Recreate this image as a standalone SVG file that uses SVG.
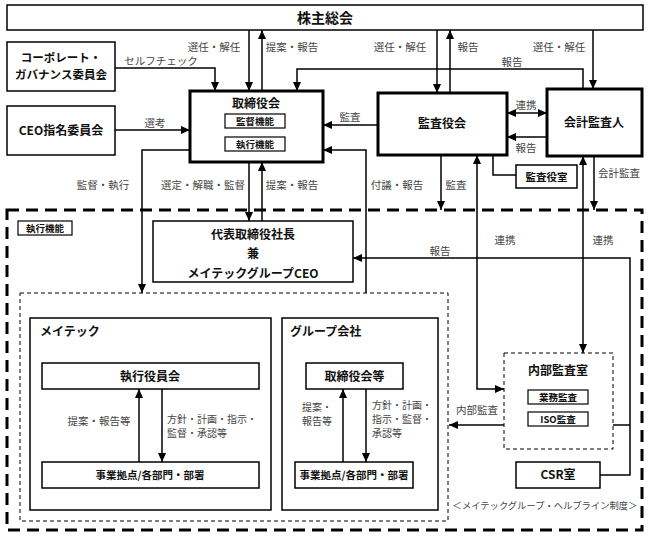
<svg xmlns="http://www.w3.org/2000/svg" width="648" height="541" viewBox="0 0 648 541">
<style>
.box{fill:#fff;stroke:#000;stroke-width:1.5}
.thick{stroke-width:3}
.small{stroke-width:1.2}
.t{font-family:"Noto Sans CJK JP","Noto Sans",sans-serif;font-size:12px;font-weight:bold;text-anchor:middle;fill:#111}
.ts{font-family:"Noto Sans CJK JP","Noto Sans",sans-serif;font-size:10.5px;font-weight:bold;text-anchor:middle;fill:#111}
.tx{font-family:"Noto Sans CJK JP","Noto Sans",sans-serif;font-size:9.5px;font-weight:bold;text-anchor:middle;fill:#111}
.lbl{font-family:"Noto Sans CJK JP","Noto Sans",sans-serif;font-size:10.5px;fill:#444;text-anchor:middle}
.l2{font-family:"Noto Sans CJK JP","Noto Sans",sans-serif;font-size:10px;fill:#444;text-anchor:start}
.c{stroke:#000;stroke-width:1.5;fill:none}
</style>
<defs>
<marker id="a" markerUnits="userSpaceOnUse" markerWidth="10" markerHeight="10" viewBox="0 0 10 10" refX="9" refY="5" orient="auto-start-reverse">
<path d="M0,1 L9,5 L0,9 Z" fill="#000"/>
</marker>
</defs>
<rect width="648" height="541" fill="#fff"/>

<!-- frames -->
<g id="exec-frame">
<rect x="7" y="210" width="635" height="320" fill="none" stroke="#000" stroke-width="3" stroke-dasharray="12 7"/>
<rect x="18" y="221" width="54" height="14" class="box small"/>
<text x="45" y="231.5" class="tx">執行機能</text>
</g>
<g id="inner-frame">
<rect x="20" y="293" width="428" height="228" fill="none" stroke="#000" stroke-width="1" stroke-dasharray="4 3"/>
</g>

<g id="shareholders">
<rect x="7" y="5" width="636" height="25" class="box"/>
<text x="325" y="22.5" class="t" style="font-size:14px">株主総会</text>
</g>
<g id="corp-gov">
<rect x="7" y="42" width="108" height="49" class="box"/>
<text x="61" y="62" class="t" style="font-size:11.5px">コーポレート・</text>
<text x="61" y="79" class="t" style="font-size:11.5px">ガバナンス委員会</text>
</g>
<g id="ceo-nom">
<rect x="7" y="106" width="108" height="49" class="box"/>
<text x="61" y="135" class="t">CEO指名委員会</text>
</g>
<g id="board">
<rect x="190" y="91" width="133" height="71" class="box thick"/>
<text x="256" y="108" class="t">取締役会</text>
<rect x="225" y="114" width="60" height="14" class="box small"/>
<text x="255" y="124.5" class="tx">監督機能</text>
<rect x="225" y="137" width="60" height="14" class="box small"/>
<text x="255" y="147.5" class="tx">執行機能</text>
</g>
<g id="audit-board">
<rect x="378" y="93" width="129" height="62" class="box thick"/>
<text x="442" y="128" class="t">監査役会</text>
</g>
<g id="auditor">
<rect x="547" y="89" width="95" height="67" class="box thick"/>
<text x="594" y="127" class="t">会計監査人</text>
</g>
<g id="audit-office">
<rect x="516" y="165" width="61" height="23" class="box"/>
<text x="546.5" y="180.5" class="ts">監査役室</text>
</g>
<g id="president">
<rect x="153" y="221" width="200" height="61" class="box"/>
<text x="253" y="239" class="t">代表取締役社長</text>
<text x="253" y="258" class="t">兼</text>
<text x="253" y="278" class="t">メイテックグループCEO</text>
</g>
<g id="meitec">
<rect x="30" y="318" width="241" height="192" class="box"/>
<text x="40" y="336" class="t" style="text-anchor:start">メイテック</text>
</g>
<g id="exec-officers">
<rect x="42" y="363" width="217" height="26" class="box"/>
<text x="150" y="380.5" class="t">執行役員会</text>
</g>
<g id="meitec-units">
<rect x="42" y="462" width="217" height="26" class="box"/>
<text x="150" y="479" class="ts">事業拠点/各部門・部署</text>
</g>
<g id="group">
<rect x="282" y="318" width="156" height="192" class="box"/>
<text x="290" y="336" class="t" style="text-anchor:start">グループ会社</text>
</g>
<g id="group-board">
<rect x="306" y="363" width="97" height="26" class="box"/>
<text x="354.5" y="380.5" class="t">取締役会等</text>
</g>
<g id="group-units">
<rect x="295" y="462" width="118" height="26" class="box"/>
<text x="354" y="479" class="ts">事業拠点/各部門・部署</text>
</g>
<g id="internal-audit">
<rect x="504" y="353" width="109" height="96" fill="#fff" stroke="#000" stroke-width="1" stroke-dasharray="4 3"/>
<text x="558" y="375" class="t">内部監査室</text>
<rect x="528" y="390" width="60" height="14" class="box small"/>
<text x="558" y="400.5" class="tx">業務監査</text>
<rect x="528" y="412" width="60" height="14" class="box small"/>
<text x="558" y="422.5" class="tx">ISO監査</text>
</g>
<g id="csr">
<rect x="516" y="462" width="84" height="26" class="box"/>
<text x="558" y="479" class="t">CSR室</text>
</g>

<g id="connectors">
<path class="c" d="M249,30V91" marker-end="url(#a)"/>
<path class="c" d="M262,91V30" marker-end="url(#a)"/>
<path class="c" d="M437,30V93" marker-end="url(#a)"/>
<path class="c" d="M450,93V30" marker-end="url(#a)"/>
<path class="c" d="M593,30V89" marker-end="url(#a)"/>
<path class="c" d="M115,68H215V91" marker-end="url(#a)"/>
<path class="c" d="M583,89V69H297V91" marker-end="url(#a)"/>
<path class="c" d="M115,130H190" marker-end="url(#a)"/>
<path class="c" d="M378,125H323" marker-end="url(#a)"/>
<path class="c" d="M366,293V150H323" marker-end="url(#a)"/>
<path class="c" d="M507,113H547" marker-start="url(#a)" marker-end="url(#a)"/>
<path class="c" d="M547,137H507" marker-end="url(#a)"/>
<path class="c" d="M190,150H142V293" marker-end="url(#a)"/>
<path class="c" d="M249,162V221" marker-end="url(#a)"/>
<path class="c" d="M262,221V162" marker-end="url(#a)"/>
<path class="c" d="M441,155V210" marker-end="url(#a)"/>
<path class="c" d="M477,155V389H504" marker-start="url(#a)" marker-end="url(#a)"/>
<path class="c" d="M493,155V175H516"/>
<path class="c" d="M583,156V353" marker-start="url(#a)" marker-end="url(#a)"/>
<path class="c" d="M594,156V210" marker-end="url(#a)"/>
<path class="c" d="M600,475H630V258H353" marker-end="url(#a)"/>
<path class="c" d="M613,425H630"/>
<path class="c" d="M504,425H449" marker-end="url(#a)"/>
<path class="c" d="M139,462V389" marker-end="url(#a)"/>
<path class="c" d="M162,389V462" marker-end="url(#a)"/>
<path class="c" d="M343,462V389" marker-end="url(#a)"/>
<path class="c" d="M366,389V462" marker-end="url(#a)"/>
</g>

<g id="labels">
<text x="214" y="51" class="lbl">選任・解任</text>
<text x="292" y="51" class="lbl">提案・報告</text>
<text x="400" y="51" class="lbl">選任・解任</text>
<text x="468" y="51" class="lbl">報告</text>
<text x="559" y="51" class="lbl">選任・解任</text>
<text x="512" y="66" class="lbl">報告</text>
<text x="161" y="65" class="lbl">セルフチェック</text>
<text x="155" y="127" class="lbl">選考</text>
<text x="350" y="121" class="lbl">監査</text>
<text x="526" y="109" class="lbl">連携</text>
<text x="526" y="152" class="lbl">報告</text>
<text x="103" y="189" class="lbl">監督・執行</text>
<text x="203" y="189" class="lbl">選定・解職・監督</text>
<text x="292" y="189" class="lbl">提案・報告</text>
<text x="397" y="189" class="lbl">付議・報告</text>
<text x="456" y="189" class="lbl">監査</text>
<text x="619" y="177" class="lbl">会計監査</text>
<text x="440" y="255" class="lbl">報告</text>
<text x="505" y="244" class="lbl">連携</text>
<text x="603" y="244" class="lbl">連携</text>
<text x="477" y="414" class="lbl">内部監査</text>
<text x="99" y="425" class="lbl">提案・報告等</text>
<text x="167" y="423" class="l2">方針・計画・指示・</text>
<text x="167" y="437" class="l2">監督・承認等</text>
<text x="302" y="411" class="l2">提案・</text>
<text x="302" y="425" class="l2">報告等</text>
<text x="372" y="409" class="l2">方針・計画・</text>
<text x="372" y="423" class="l2">指示・監督・</text>
<text x="372" y="437" class="l2">承認等</text>
<text x="545" y="509" class="lbl" style="font-size:9.3px">＜メイテックグループ・ヘルプライン制度＞</text>
</g>
</svg>
